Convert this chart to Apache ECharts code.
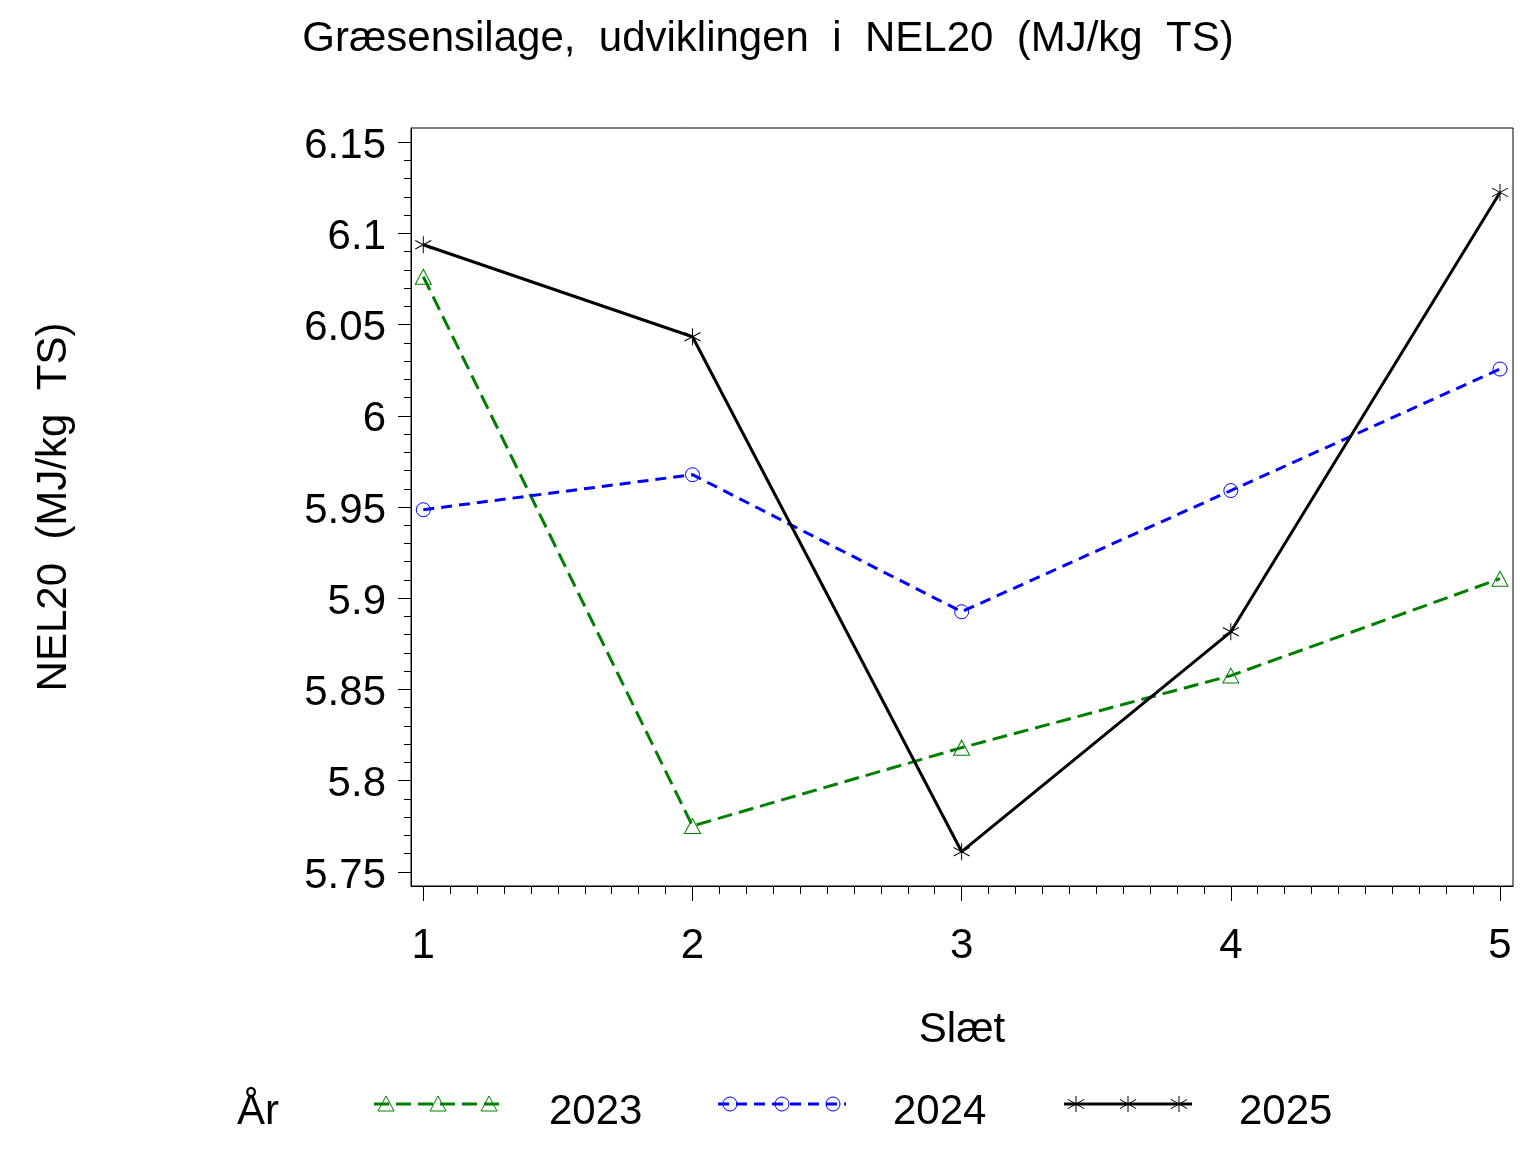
<!DOCTYPE html>
<html>
<head>
<meta charset="utf-8">
<script src="https://cdn.jsdelivr.net/npm/echarts@6/dist/echarts.min.js"></script>
<style>
html,body{margin:0;padding:0;background:#fff;}
#c{width:1536px;height:1152px;}
</style>
</head>
<body>
<div id="c"></div>
<script>
// ---- data ----
var slaet = [1, 2, 3, 4, 5];
var years = ['2023', '2024', '2025'];
var v2023 = [6.0762, 5.7752, 5.8181, 5.8576, 5.9107];
var v2024 = [5.9485, 5.9677, 5.8926, 5.9590, 6.0256];
var v2025 = [6.0937, 6.0433, 5.7611, 5.8816, 6.1224];
var yTickLabels = [5.75, 5.8, 5.85, 5.9, 5.95, 6, 6.05, 6.1, 6.15];
var xTickLabels = [1, 2, 3, 4, 5];

var titleText = 'Græsensilage,  udviklingen  i  NEL20  (MJ/kg  TS)';
var yName = 'NEL20  (MJ/kg  TS)';
var xName = 'Slæt';
var legendTitle = 'År';

// minor tick positions
var yMinor = [];
for (var i = 0; i <= 40; i++) { if (i % 5 !== 0) yMinor.push(Math.round((5.75 + i * 0.01) * 1000) / 1000); }
var xMinor = [];
for (var j = 0; j <= 40; j++) { if (j % 10 !== 0) xMinor.push(Math.round((1 + j * 0.1) * 1000) / 1000); }

var FONT = 'Liberation Sans, Arial, Helvetica, sans-serif';
var FS = 42;
var colors = ['#008000', '#0000ff', '#000000'];
var STAR = 'path://M10,0 L10,20 M1.34,5 L18.66,15 M1.34,15 L18.66,5';

function pairs(vals) { return slaet.map(function (x, k) { return [x, vals[k]]; }); }

var xMin = 0.9543, xMax = 5.0483, yMin = 5.7423, yMax = 6.1577;

// ---- legend built with graphic elements ----
var graphics = [];
graphics.push({ type: 'text', x: 237, y: 1112, style: { text: legendTitle, fontSize: FS, fontFamily: FONT, fill: '#000', verticalAlign: 'middle' } });
var legStarts = [374, 718, 1064];
var ly = 1104;
years.forEach(function (yr, k) {
  var L = legStarts[k];
  var dash = k === 0 ? [15, 7] : (k === 1 ? [11, 7] : null);
  graphics.push({ type: 'line', shape: { x1: L, y1: ly, x2: L + 128, y2: ly }, style: { stroke: colors[k], lineWidth: 3, lineDash: dash } });
  [12, 64, 115].forEach(function (o) {
    var cx = L + o;
    if (k === 0) {
      graphics.push({ type: 'polygon', shape: { points: [[cx, ly - 8], [cx - 8, ly + 7], [cx + 8, ly + 7]] }, style: { fill: 'none', stroke: colors[k], lineWidth: 1 } });
    } else if (k === 1) {
      graphics.push({ type: 'circle', shape: { cx: cx, cy: ly, r: 7 }, style: { fill: 'none', stroke: colors[k], lineWidth: 1 } });
    } else {
      graphics.push({ type: 'line', shape: { x1: cx, y1: ly - 8, x2: cx, y2: ly + 8 }, style: { stroke: '#000', lineWidth: 1 } });
      graphics.push({ type: 'line', shape: { x1: cx - 8, y1: ly - 4.5, x2: cx + 8, y2: ly + 4.5 }, style: { stroke: '#000', lineWidth: 1 } });
      graphics.push({ type: 'line', shape: { x1: cx - 8, y1: ly + 4.5, x2: cx + 8, y2: ly - 4.5 }, style: { stroke: '#000', lineWidth: 1 } });
    }
  });
  graphics.push({ type: 'text', x: L + 175, y: 1112, style: { text: yr, fontSize: FS, fontFamily: FONT, fill: '#000', verticalAlign: 'middle' } });
});

var chart = echarts.init(document.getElementById('c'), null, { renderer: 'canvas' });
chart.setOption({
  animation: false,
  backgroundColor: '#fff',
  title: {
    text: titleText, left: 'center', top: 13,
    textStyle: { fontSize: FS, fontWeight: 'normal', fontFamily: FONT, color: '#000' }
  },
  grid: { left: 411, right: 23, top: 128, bottom: 266, show: true, borderColor: '#000', borderWidth: 1, backgroundColor: 'transparent' },
  xAxis: [{
    type: 'value', min: xMin, max: xMax, position: 'bottom',
    name: xName, nameLocation: 'middle', nameGap: 123,
    nameTextStyle: { fontSize: FS, fontFamily: FONT, color: '#000' },
    axisLine: { show: true, onZero: false, lineStyle: { color: '#000', width: 1 } },
    axisTick: { show: true, customValues: xTickLabels, length: 15, lineStyle: { color: '#000', width: 1 } },
    axisLabel: { show: true, customValues: xTickLabels, margin: 39, fontSize: FS, fontFamily: FONT, color: '#000' },
    splitLine: { show: false }
  }, {
    type: 'value', min: xMin, max: xMax, position: 'bottom', offset: 0,
    axisLine: { show: false },
    axisTick: { show: true, customValues: xMinor, length: 8, lineStyle: { color: '#000', width: 1 } },
    axisLabel: { show: false },
    splitLine: { show: false }
  }],
  yAxis: [{
    type: 'value', min: yMin, max: yMax, position: 'left',
    name: yName, nameLocation: 'middle', nameGap: 336, nameRotate: 90,
    nameTextStyle: { fontSize: FS, fontFamily: FONT, color: '#000' },
    axisLine: { show: true, onZero: false, lineStyle: { color: '#000', width: 1 } },
    axisTick: { show: true, customValues: yTickLabels, length: 13, lineStyle: { color: '#000', width: 1 } },
    axisLabel: {
      show: true, customValues: yTickLabels, margin: 25, color: '#000',
      formatter: function (v) { return '{a|' + v + '}'; },
      rich: { a: { fontSize: FS, fontFamily: FONT, color: '#000', padding: [8, 0, 0, 0] } }
    },
    splitLine: { show: false }
  }, {
    type: 'value', min: yMin, max: yMax, position: 'left', offset: 0,
    axisLine: { show: false },
    axisTick: { show: true, customValues: yMinor, length: 7, lineStyle: { color: '#000', width: 1 } },
    axisLabel: { show: false },
    splitLine: { show: false }
  }],
  series: [{
    name: years[0], type: 'line', xAxisIndex: 0, yAxisIndex: 0, data: pairs(v2023),
    symbol: 'triangle', symbolSize: [16, 15],
    itemStyle: { color: 'transparent', borderColor: colors[0], borderWidth: 1 },
    lineStyle: { color: colors[0], width: 3, type: [15, 7] }
  }, {
    name: years[1], type: 'line', xAxisIndex: 0, yAxisIndex: 0, data: pairs(v2024),
    symbol: 'circle', symbolSize: 14,
    itemStyle: { color: 'transparent', borderColor: colors[1], borderWidth: 1 },
    lineStyle: { color: colors[1], width: 3, type: [11, 7] }
  }, {
    name: years[2], type: 'line', xAxisIndex: 0, yAxisIndex: 0, data: pairs(v2025),
    symbol: STAR, symbolSize: [16, 17],
    itemStyle: { color: 'transparent', borderColor: colors[2], borderWidth: 1 },
    lineStyle: { color: colors[2], width: 3, type: 'solid' }
  }],
  graphic: graphics
});
</script>
</body>
</html>
